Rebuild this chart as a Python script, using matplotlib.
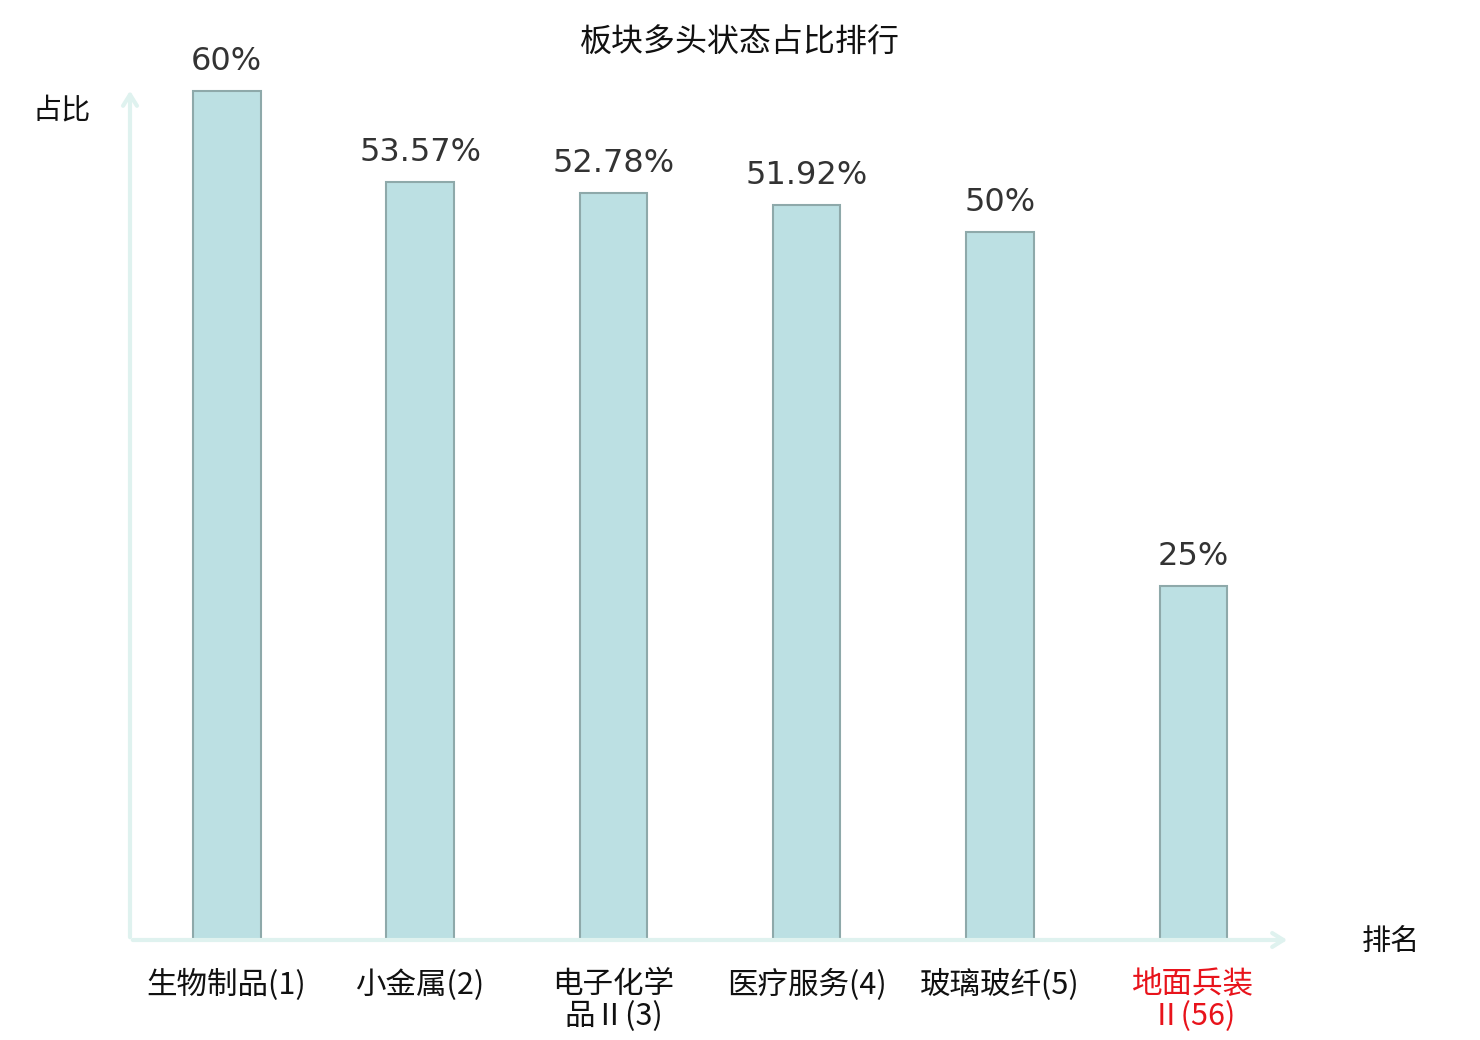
import matplotlib
matplotlib.use('Agg')
from matplotlib import pyplot as plt

sectors = ['生物制品(1)', '小金属(2)', '电子化学\n品Ⅱ(3)', '医疗服务(4)', '玻璃玻纤(5)', '地面兵装\nⅡ(56)']
ratios = [60, 53.57, 52.78, 51.92, 50, 25]
value_labels = ['60%', '53.57%', '52.78%', '51.92%', '50%', '25%']
highlight = [False, False, False, False, False, True]

FONTS = ['Noto Sans CJK SC', 'DejaVu Sans']
plt.rcParams['font.family'] = FONTS

fig = plt.figure(figsize=(14.8, 10.4), dpi=100)
ax = fig.add_axes([130 / 1480, 100 / 1040, 1160 / 1480, 852 / 1040])

x = list(range(len(sectors)))
ax.bar(x, ratios, width=0.35, color='#bce0e3', edgecolor='#8ea9aa', linewidth=1.5)

for xi, val, lab in zip(x, ratios, value_labels):
    ax.annotate(lab, (xi, val), xytext=(0, 10), textcoords='offset points',
                ha='center', va='bottom', fontsize=23, color='#333333',
                family='DejaVu Sans')

ax.set_xlim(-0.5, 5.5)
ax.set_ylim(0, 60.2)
for s in ax.spines.values():
    s.set_visible(False)
ax.set_yticks([])
ax.set_xticks(x)
ax.set_xticklabels(sectors, fontsize=22, linespacing=1.02)
ax.tick_params(axis='x', length=0, pad=21)
for tl, hl in zip(ax.get_xticklabels(), highlight):
    tl.set_color('#e8131b' if hl else '#111111')

# axis arrows
arrow = dict(arrowstyle='->,head_length=0.8,head_width=0.5', color='#dff2ef', lw=3)
ax.annotate('', xy=(1.0, 0), xytext=(0, 0), xycoords='axes fraction',
            arrowprops=arrow, annotation_clip=False)
ax.annotate('', xy=(0, 1.0), xytext=(0, 0), xycoords='axes fraction',
            arrowprops=arrow, annotation_clip=False)

fig.text(62 / 1480, 1 - 110 / 1040, '占比', ha='center', va='center', fontsize=21, color='#111111')
fig.text(1391 / 1480, 1 - 942 / 1040, '排名', ha='center', va='center', fontsize=21, color='#111111')
fig.text(0.5, 1 - 43 / 1040, '板块多头状态占比排行', ha='center', va='center', fontsize=23, color='#111111')

fig.savefig('out.png', dpi=100)
